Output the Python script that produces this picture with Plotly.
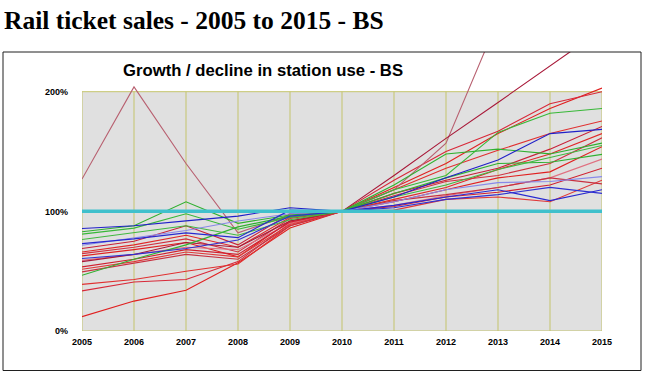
import plotly.graph_objects as go

years = [2005, 2006, 2007, 2008, 2009, 2010, 2011, 2012, 2013, 2014, 2015]

# Station use, indexed to 2010 = 100 (%)
spike_station = [127, 204, 140, 82, 97, 100, 118, 157, 260, 300, 300]
steep_station = [58, 64, 74, 70, 92, 100, 130, 161, 191, 222, 252]

red_1 = [12, 25, 34, 57, 86, 100, 120, 140, 165, 186, 203]
red_2 = [33.5, 41, 43, 58, 90, 100, 126, 150, 167, 190, 200]
red_3 = [39, 43, 50, 56, 88, 100, 118, 136, 151, 165, 175.5]
red_4 = [69, 75, 88, 72, 98, 100, 115, 126, 136, 152, 171]
red_5 = [66, 72, 80, 70, 95, 100, 110, 120, 135, 148, 165]
red_6 = [64.7, 70, 77, 66, 94, 100, 113, 125, 130, 140, 161.5]
red_7 = [62.8, 68, 74, 62, 92, 100, 108, 118, 128, 133, 154]
red_8 = [59, 64, 70, 68, 90, 100, 105, 113, 120, 128, 143.7]
red_9 = [53.6, 60, 68, 64, 91, 100, 104, 112, 116, 122, 136]
red_10 = [51.6, 58, 66, 62, 89, 100, 101, 110, 112, 108, 126]
red_11 = [49.4, 57, 64, 60, 88, 100, 109, 114, 120, 128, 123]

green_1 = [83, 88, 108, 90, 97, 100, 122, 148, 152, 148, 157]
green_2 = [81, 86, 98, 85, 95, 100, 118, 130, 166, 182, 186]
green_3 = [46.6, 60, 72, 87, 96, 100, 115, 128, 140, 141, 147.6]
green_4 = [76.5, 82, 88, 80, 93, 100, 112, 122, 135, 145, 155]

blue_1 = [85.7, 88, 92, 96, 103, 100, 112, 128, 143, 165, 168.5]
blue_2 = [73, 77, 82, 78, 101, 100, 105, 112, 118, 109, 118]
blue_3 = [60.6, 64, 69, 76, 96, 100, 103, 110, 114, 120, 115]
purple_1 = [71.7, 78, 84, 92, 98, 100, 108, 118, 124, 125, 129]

baseline = [100] * len(years)

y_tick_vals = [0, 100, 200]
y_tick_text = ["0%", "100%", "200%"]
x_tick_text = [str(y) for y in years]

fig = go.Figure()

series = [
    (red_1, "#e02020"), (red_2, "#d82838"), (red_3, "#e03030"),
    (red_4, "#c82038"), (red_5, "#e02828"), (red_6, "#d03040"),
    (red_7, "#e02020"), (red_8, "#e07080"), (red_9, "#d02030"),
    (red_10, "#e03838"), (red_11, "#c83040"),
    (spike_station, "#b86070"), (steep_station, "#a81838"),
    (green_1, "#30b030"), (green_2, "#38b838"), (green_3, "#30b030"),
    (green_4, "#40b840"),
    (purple_1, "#8888e8"),
    (blue_1, "#2020c8"), (blue_2, "#2828d0"), (blue_3, "#3030d0"),
]

for vals, col in series:
    fig.add_trace(go.Scatter(x=years, y=vals, mode="lines",
                             line=dict(color=col, width=1.1),
                             hoverinfo="skip", showlegend=False))

fig.add_trace(go.Scatter(x=years, y=baseline, mode="lines",
                         line=dict(color="#40c0cc", width=3.5),
                         hoverinfo="skip", showlegend=False))

shapes = [
    dict(type="rect", xref="x", yref="y", x0=2005, x1=2015, y0=0, y1=200,
         fillcolor="#e0e0e0", line=dict(color="#c4c46c", width=1), layer="below"),
]
for yr in years[1:-1]:
    shapes.append(dict(type="line", xref="x", yref="y", x0=yr, x1=yr, y0=0, y1=200,
                       line=dict(color="#c4c46c", width=1), layer="below"))
# outer frame
L, R, T, B = 82, 602, 52, 331
def px_x(p):
    return (p - L) / (R - L)
def px_y(p):
    return (B - p) / (B - T)
shapes.append(dict(type="rect", xref="paper", yref="paper",
                   x0=px_x(3), x1=px_x(641), y0=px_y(370.5), y1=px_y(52),
                   line=dict(color="#202020", width=1), fillcolor="rgba(0,0,0,0)"))

annotations = [
    dict(text="<b>Rail ticket sales - 2005 to 2015 - BS</b>", xref="paper", yref="paper",
         x=px_x(2), y=px_y(4), xanchor="left", yanchor="top", showarrow=False,
         font=dict(family="Liberation Serif", size=25.5, color="#000000")),
    dict(text="<b>Growth / decline in station use - BS</b>", xref="paper", yref="paper",
         x=px_x(263), y=px_y(70), xanchor="center", yanchor="middle", showarrow=False,
         font=dict(family="Liberation Sans", size=16.7, color="#000000")),
]

fig.update_layout(
    width=650, height=378,
    margin=dict(l=L, r=650 - R, t=T, b=378 - B, pad=0),
    paper_bgcolor="white", plot_bgcolor="white",
    shapes=shapes, annotations=annotations,
    xaxis=dict(range=[2005, 2015], tickvals=years, ticktext=x_tick_text,
               showgrid=False, zeroline=False, showline=False, ticks="",
               ticklabelstandoff=4,
               tickfont=dict(family="Liberation Sans", size=9, color="#000000", weight="bold")),
    yaxis=dict(range=[0, (B - T) / 1.1965], tickvals=y_tick_vals, ticktext=y_tick_text,
               showgrid=False, zeroline=False, showline=False, ticks="",
               ticklabelstandoff=13,
               tickfont=dict(family="Liberation Sans", size=9, color="#000000", weight="bold")),
)

fig.write_html("out.html", config={"displayModeBar": False},
               post_script="document.body.style.margin='0';")
